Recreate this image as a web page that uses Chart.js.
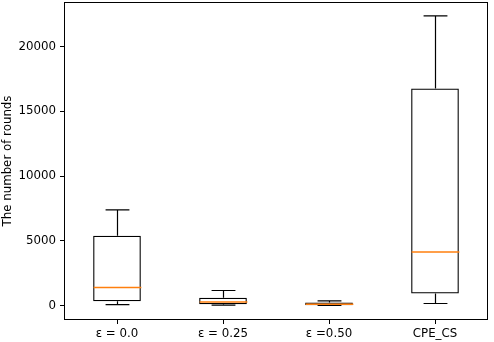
<!DOCTYPE html>
<html lang="en">
<head>
    <meta charset="UTF-8">
    <title>Number of rounds</title>
    <style>
        body {
            margin: 0;
            padding: 0;
            background-color: #ffffff;
        }

        .chart-container {
            width: 494px;
            height: 342px;
        }
    </style>
    <script src="https://cdn.jsdelivr.net/npm/chart.js"></script>
</head>
<body>
    <div class="chart-container">
        <canvas id="roundsChart"></canvas>
    </div>

    <script>
        const categories = ['\u03b5 = 0.0', '\u03b5 = 0.25', '\u03b5 =0.50', 'CPE_CS'];
        const whiskerLow = [75, 25, 5, 155];
        const quartile1 = [330, 100, 25, 930];
        const medians = [1390, 280, 100, 4140];
        const quartile3 = [5380, 590, 230, 16770];
        const whiskerHigh = [7390, 1160, 360, 22380];
        const yTicks = [0, 5000, 10000, 15000, 20000];

        const fontFamily = "'DejaVu Sans', sans-serif";
        const fontSize = 11.8;

        // whiskers, caps, medians and the frame drawn on top of the bars
        const boxPlotExtras = {
            id: 'boxPlotExtras',
            afterDatasetsDraw(chart) {
                const ctx = chart.ctx;
                const x = chart.scales.x;
                const y = chart.scales.y;
                const meta = chart.getDatasetMeta(0);

                ctx.save();
                categories.forEach((cat, i) => {
                    const cx = Math.round(x.getPixelForValue(i)) + 0.5;
                    const boxW = meta.data[i].width;
                    const capHalf = boxW / 4;

                    ctx.strokeStyle = '#000000';
                    ctx.lineWidth = 1.2;
                    ctx.beginPath();
                    ctx.moveTo(cx, y.getPixelForValue(whiskerLow[i]));
                    ctx.lineTo(cx, y.getPixelForValue(quartile1[i]));
                    ctx.moveTo(cx, y.getPixelForValue(quartile3[i]));
                    ctx.lineTo(cx, y.getPixelForValue(whiskerHigh[i]));
                    ctx.moveTo(cx - capHalf, y.getPixelForValue(whiskerLow[i]));
                    ctx.lineTo(cx + capHalf, y.getPixelForValue(whiskerLow[i]));
                    ctx.moveTo(cx - capHalf, y.getPixelForValue(whiskerHigh[i]));
                    ctx.lineTo(cx + capHalf, y.getPixelForValue(whiskerHigh[i]));
                    ctx.stroke();

                    ctx.strokeStyle = '#ff7f0e';
                    ctx.lineWidth = 1.5;
                    ctx.beginPath();
                    ctx.moveTo(cx - boxW / 2, y.getPixelForValue(medians[i]));
                    ctx.lineTo(cx + boxW / 2, y.getPixelForValue(medians[i]));
                    ctx.stroke();
                });

                const area = chart.chartArea;
                ctx.strokeStyle = '#000000';
                ctx.lineWidth = 1;
                ctx.strokeRect(area.left + 0.5, area.top + 0.5,
                    area.right - area.left - 1, area.bottom - area.top - 1);
                ctx.restore();
            }
        };

        const ctx = document.getElementById('roundsChart').getContext('2d');

        const chart = new Chart(ctx, {
            type: 'bar',
            data: {
                labels: categories,
                datasets: [{
                    label: 'box',
                    data: quartile1.map((q, i) => [q, quartile3[i]]),
                    backgroundColor: 'rgba(255, 255, 255, 0)',
                    borderColor: '#000000',
                    borderWidth: 1.2,
                    borderSkipped: false,
                    categoryPercentage: 1.0,
                    barPercentage: 0.45
                }]
            },
            options: {
                responsive: true,
                maintainAspectRatio: false,
                animation: false,
                layout: {
                    padding: { top: 2, right: 6, left: 0, bottom: 0 }
                },
                scales: {
                    x: {
                        offset: true,
                        grid: {
                            display: true,
                            offset: false,
                            drawOnChartArea: false,
                            drawTicks: true,
                            tickLength: 4,
                            color: '#000000'
                        },
                        border: { display: false },
                        ticks: {
                            color: '#000000',
                            padding: 3,
                            maxRotation: 0,
                            font: { family: fontFamily, size: fontSize }
                        },
                        afterFit(scale) {
                            scale.height = 22;
                            scale.paddingLeft = 0;
                            scale.paddingRight = 0;
                        }
                    },
                    y: {
                        min: -1120,
                        max: 23450,
                        grid: {
                            display: true,
                            drawOnChartArea: false,
                            drawTicks: true,
                            tickLength: 4,
                            color: '#000000'
                        },
                        border: { display: false },
                        ticks: {
                            color: '#000000',
                            padding: 4,
                            font: { family: fontFamily, size: fontSize },
                            callback: value => String(value)
                        },
                        afterBuildTicks(scale) {
                            scale.ticks = yTicks.map(v => ({ value: v }));
                        },
                        title: {
                            display: true,
                            text: 'The number of rounds',
                            color: '#000000',
                            padding: { top: 1, bottom: 0 },
                            font: { family: fontFamily, size: fontSize }
                        },
                        afterFit(scale) {
                            scale.width = 64;
                            scale.paddingTop = 0;
                            scale.paddingBottom = 0;
                        }
                    }
                },
                plugins: {
                    legend: { display: false },
                    tooltip: { enabled: false }
                }
            },
            plugins: [boxPlotExtras]
        });
    </script>
</body>
</html>
